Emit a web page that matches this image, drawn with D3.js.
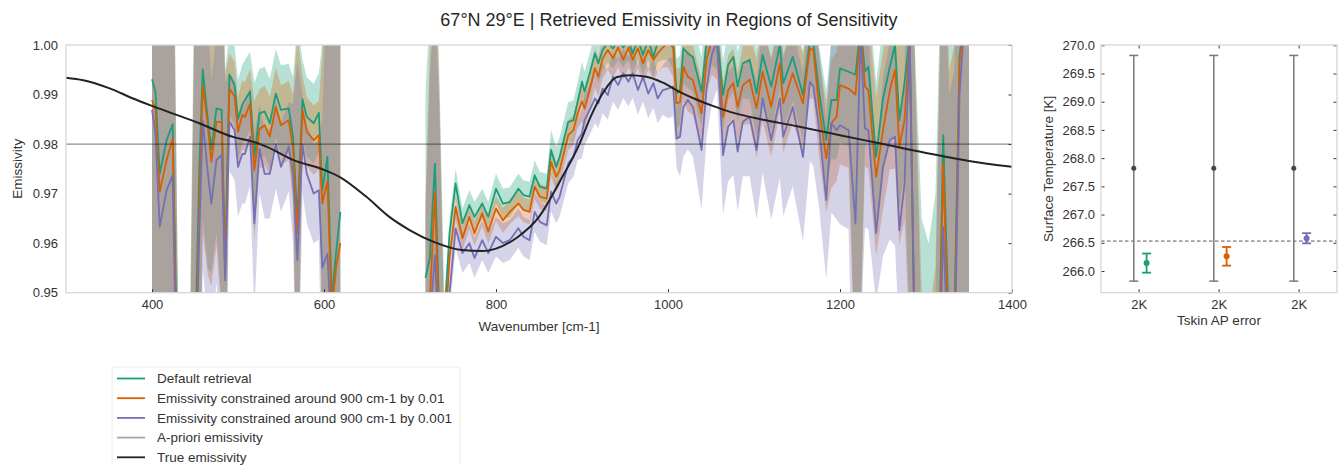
<!DOCTYPE html>
<html>
<head>
<meta charset="utf-8">
<script src="https://cdn.jsdelivr.net/npm/d3@7"></script>
<style>
    body { margin: 0; background: #fff; }
    svg { font-family: "Liberation Sans", Arial, sans-serif; }
</style>
</head>
<body>
<svg id="chart" width="1338" height="465"></svg>
<script>
// ---- emissivity panel data (null = no retrieval between the two windows) ----
const wavenumbers = [
    400, 404, 409, 417, 424, 431, 437, 443, 449, 455,
    459, 465, 469, 475, 481, 485, 490, 496, 500, 505,
    508, 514, 519, 525, 531, 537, 544, 550, 559, 564,
    569, 575, 580, 588, 594, 598, 604, 609, 614, 619,
    670,
    718, 723, 729, 734, 740, 746, 753, 761, 769, 775,
    784, 791, 800, 808, 816, 826, 832, 839, 845, 851,
    859, 864, 870, 874, 884, 890, 895, 900, 903, 909,
    915, 919, 924, 930, 936, 942, 948, 954, 959, 965,
    971, 977, 983, 988, 994, 1000, 1006, 1010, 1014, 1018,
    1023, 1029, 1039, 1045, 1051, 1057, 1064, 1070, 1076, 1081,
    1087, 1095, 1103, 1110, 1120, 1130, 1134, 1145, 1157, 1165,
    1169, 1176, 1184, 1190, 1196, 1200, 1210, 1218, 1224, 1229,
    1233, 1242, 1250, 1258, 1264, 1269, 1275, 1281, 1287, 1295,
    1303, 1311, 1316, 1320, 1327, 1333, 1339, 1344, 1350
];

const defaultRetrieval = [
    .9931, .9906, .9740, .9808, .9840, .9200, .9000, .9100, .9300, .9750,
    .9951, .9848, .9790, .9872, .9869, .9550, .9940, .9919, .9850, .9880,
    .9889, .9906, .9774, .9862, .9866, .9842, .9902, .9869, .9872, .9815,
    .9646, .9890, .9855, .9842, .9863, .9707, .9774, .9490, .9579, .9663,
    null,
    .9530, .9570, .9760, .9450, .9450, .9620, .9720, .9640, .9677, .9653,
    .9680, .9653, .9710, .9680, .9683, .9710, .9697, .9694, .9737, .9714,
    .9710, .9788, .9754, .9774, .9845, .9848, .9886, .9926, .9906, .9943,
    .9983, .9963, .9990, 1.0005, .9993, 1.0010, .9995, 1.0010, .9983, 1.0010,
    .9980, 1.0010, .9976, 1.0005, 1.0010, 1.0020, 1.0010, .9902, .9909, .9993,
    .9983, .9976, .9906, 1.0010, 1.0030, 1.0020, .9899, .9960, .9976, .9916,
    .9963, .9970, .9902, .9980, .9916, 1.0000, .9923, .9976, .9899, 1.0010,
    1.0005, .9902, .9808, .9889, .9889, .9953, .9946, .9940, 1.0040, .9946,
    .9956, .9774, .9892, .9956, 1.0000, .9848, .9923, 1.0020, .9400, .9250,
    .9200, .9300, .9450, .9818, .9400, .9450, .9976, 1.0050, 1.0100
];

const constrained01 = [
    .9889, .9869, .9704, .9768, .9811, .9150, .8950, .9050, .9250, .9680,
    .9919, .9835, .9764, .9845, .9845, .9540, .9912, .9896, .9825, .9859,
    .9855, .9881, .9747, .9830, .9838, .9815, .9875, .9838, .9848, .9790,
    .9620, .9868, .9825, .9808, .9818, .9680, .9725, .9460, .9550, .9600,
    null,
    .9490, .9480, .9704, .9420, .9400, .9570, .9673, .9610, .9653, .9620,
    .9660, .9623, .9670, .9646, .9663, .9680, .9667, .9663, .9714, .9694,
    .9690, .9764, .9734, .9747, .9818, .9828, .9862, .9886, .9872, .9909,
    .9953, .9936, .9973, .9990, .9973, .9995, .9970, .9995, .9970, .9993,
    .9963, .9990, .9970, .9983, .9995, 1.0005, .9995, .9882, .9885, .9956,
    .9936, .9929, .9862, .9973, 1.0010, 1.0000, .9855, .9909, .9923, .9875,
    .9919, .9930, .9872, .9946, .9875, .9963, .9882, .9943, .9882, .9993,
    .9990, .9869, .9771, .9842, .9855, .9919, .9912, .9900, 1.0030, .9916,
    .9909, .9734, .9828, .9909, .9950, .9795, .9848, 1.0010, .9380, .9200,
    .9150, .9250, .9400, .9761, .9350, .9400, .9963, 1.0040, 1.0080
];

const constrained001 = [
    .9869, .9822, .9633, .9707, .9737, .9100, .8900, .9000, .9200, .9620,
    .9848, .9740, .9680, .9768, .9778, .9525, .9845, .9828, .9754, .9780,
    .9780, .9815, .9640, .9790, .9740, .9740, .9800, .9754, .9795, .9740,
    .9566, .9800, .9740, .9700, .9707, .9550, .9579, .9400, .9450, .9500,
    null,
    .9460, .9440, .9576, .9380, .9350, .9500, .9630, .9580, .9600, .9570,
    .9606, .9580, .9613, .9600, .9606, .9630, .9613, .9606, .9663, .9643,
    .9636, .9704, .9680, .9694, .9761, .9774, .9808, .9822, .9848, .9869,
    .9892, .9882, .9912, .9899, .9936, .9919, .9943, .9926, .9943, .9909,
    .9936, .9902, .9923, .9892, .9909, .9912, .9916, .9811, .9815, .9875,
    .9889, .9875, .9788, .9916, .9980, 1.0010, .9778, .9835, .9848, .9785,
    .9845, .9855, .9788, .9892, .9808, .9892, .9815, .9875, .9774, .9926,
    .9916, .9828, .9687, .9842, .9828, .9838, .9828, .9640, 1.0020, .9832,
    .9828, .9620, .9754, .9808, .9815, .9626, .9720, 1.0010, .9350, .9100,
    .9050, .9200, .9350, .9633, .9300, .9350, .9900, 1.0030, 1.0060
];

// 1-sigma retrieval errors
const defaultSigma = [
    .06, .06, .06, .06, .06, .02, .02, .02, .08, .05,
    .03, .03, .025, .025, .04, .04, .008, .008, .008, .008,
    .008, .008, .015, .009, .009, .009, .009, .009, .009, .012,
    .04, .008, .008, .008, .008, .03, .06, .06, .06, .06,
    null,
    .037, .05, .05, .05, .004, .003, .003, .003, .003, .003,
    .003, .003, .003, .003, .003, .003, .003, .003, .003, .003,
    .003, .004, .004, .004, .004, .004, .004, .004, .004, .004,
    .004, .004, .004, .004, .004, .004, .004, .004, .004, .004,
    .004, .004, .004, .004, .004, .005, .006, .007, .007, .007,
    .007, .007, .007, .007, .007, .007, .007, .007, .007, .007,
    .007, .008, .009, .009, .009, .009, .009, .009, .009, .009,
    .009, .009, .010, .012, .012, .015, .015, .06, .06, .015,
    .015, .015, .015, .015, .018, .018, .018, .06, .06, .04,
    .04, .04, .06, .06, .06, .06, .06, .06, .06
];

const constrained01Sigma = [
    .06, .06, .06, .06, .06, .02, .02, .02, .08, .05,
    .03, .03, .025, .025, .04, .04, .007, .007, .007, .007,
    .007, .007, .014, .008, .008, .008, .008, .008, .008, .011,
    .04, .007, .007, .007, .007, .03, .06, .06, .06, .06,
    null,
    .02, .05, .05, .05, .003, .0025, .0025, .0025, .0025, .0025,
    .0025, .0025, .0025, .0025, .0025, .0025, .0025, .0025, .0025, .0025,
    .0025, .003, .003, .003, .003, .003, .003, .004, .004, .004,
    .004, .004, .004, .004, .004, .004, .004, .004, .004, .004,
    .004, .004, .004, .004, .004, .005, .006, .007, .007, .007,
    .007, .007, .007, .007, .007, .007, .007, .007, .007, .007,
    .008, .009, .010, .010, .010, .010, .010, .010, .010, .010,
    .010, .010, .011, .013, .013, .016, .016, .06, .06, .016,
    .016, .016, .016, .016, .02, .02, .02, .06, .06, .03,
    .03, .03, .06, .06, .06, .06, .06, .06, .06
];

const constrained001Sigma = [
    .06, .06, .06, .06, .06, .02, .02, .02, .08, .05,
    .03, .03, .025, .025, .04, .04, .010, .010, .010, .010,
    .010, .010, .018, .009, .009, .009, .009, .009, .009, .014,
    .04, .010, .010, .010, .010, .03, .06, .06, .06, .06,
    null,
    .02, .05, .05, .05, .004, .004, .004, .004, .004, .004,
    .004, .004, .004, .004, .004, .004, .004, .004, .004, .004,
    .004, .004, .004, .004, .004, .004, .004, .005, .005, .005,
    .005, .005, .005, .005, .005, .005, .005, .005, .005, .005,
    .005, .005, .005, .005, .005, .006, .006, .006, .008, .010,
    .010, .010, .012, .010, .010, .010, .012, .011, .011, .012,
    .011, .012, .014, .015, .016, .016, .016, .016, .017, .016,
    .016, .016, .016, .018, .018, .02, .02, .06, .06, .02,
    .02, .014, .018, .02, .022, .022, .022, .06, .06, .03,
    .03, .03, .06, .06, .06, .06, .06, .06, .06
];

const trueWavenumbers = [
    300, 320, 350, 378, 400, 455, 495, 517, 533, 564,
    600, 618, 649, 676, 700, 727, 760, 785, 800, 825,
    850, 875, 897, 910, 925, 940, 955, 975, 994, 1014,
    1033, 1052, 1072, 1100, 1150, 1200, 1250, 1300, 1350, 1400
];
const trueEmissivity = [
    .9934, .9929, .9913, .9892, .9877, .9842, .9814, .9805, .9795, .9768,
    .9748, .9734, .9694, .9653, .9626, .9603, .9586, .9584, .9589, .9612,
    .9653, .9727, .9800, .9855, .9905, .9935, .9939, .9936, .9924, .9905,
    .9890, .9877, .9865, .9853, .9836, .9818, .9800, .9782, .9766, .9754
];
const aprioriEmissivity = 0.98;

const xTicks = [400, 600, 800, 1000, 1200, 1400];
const yTicks = [0.95, 0.96, 0.97, 0.98, 0.99, 1.00];

// ---- surface temperature panel data ----
const apErrorLabels = ['2K', '2K', '2K'];
const aprioriTemp = [267.82, 267.82, 267.82];
const aprioriTempErr = [2.0, 2.0, 2.0];
const retrievedTemp = [266.14, 266.26, 266.58];
const retrievedTempErr = [0.17, 0.165, 0.09];
const trueTemp = 266.53;
const tempTicks = [266.0, 266.5, 267.0, 267.5, 268.0, 268.5, 269.0, 269.5, 270.0];

const seriesNames = [
    'Default retrieval',
    'Emissivity constrained around 900 cm-1 by 0.01',
    'Emissivity constrained around 900 cm-1 by 0.001'
];
const seriesColors = ['#1b9e77', '#d95f02', '#7570b3'];

const series = [
    { name: seriesNames[0], color: seriesColors[0], values: defaultRetrieval, sigma: defaultSigma },
    { name: seriesNames[1], color: seriesColors[1], values: constrained01, sigma: constrained01Sigma },
    { name: seriesNames[2], color: seriesColors[2], values: constrained001, sigma: constrained001Sigma }
];

const textColor = '#333';
const frameColor = '#d6d6d6';

const svg = d3.select('#chart');

// Title
svg.append('text')
    .attr('x', 669)
    .attr('y', 26)
    .attr('text-anchor', 'middle')
    .attr('font-size', '18px')
    .attr('fill', '#262626')
    .text('67°N 29°E | Retrieved Emissivity in Regions of Sensitivity');

// ================= Emissivity panel =================
const left = { x0: 66, x1: 1012, y0: 45, y1: 292.7 };

const x = d3.scaleLinear().domain([300, 1400]).range([left.x0, left.x1]);
const y = d3.scaleLinear().domain([0.95, 1.0]).range([left.y1, left.y0]);

svg.append('clipPath')
    .attr('id', 'clip-left')
    .append('rect')
    .attr('x', left.x0)
    .attr('y', left.y0)
    .attr('width', left.x1 - left.x0)
    .attr('height', left.y1 - left.y0);

const plot = svg.append('g').attr('clip-path', 'url(#clip-left)');

// Uncertainty bands
series.forEach((s) => {
    const rows = wavenumbers.map((w, i) => ({ w: w, v: s.values[i], s: s.sigma[i] }));
    const area = d3.area()
        .defined((d) => d.v != null)
        .x((d) => x(d.w))
        .y0((d) => y(d.v - d.s))
        .y1((d) => y(d.v + d.s));
    plot.append('path')
        .datum(rows)
        .attr('d', area)
        .attr('fill', s.color)
        .attr('fill-opacity', 0.31);
});

// Retrieved lines
series.forEach((s) => {
    const rows = wavenumbers.map((w, i) => ({ w: w, v: s.values[i] }));
    const line = d3.line()
        .defined((d) => d.v != null)
        .x((d) => x(d.w))
        .y((d) => y(d.v));
    plot.append('path')
        .datum(rows)
        .attr('d', line)
        .attr('fill', 'none')
        .attr('stroke', s.color)
        .attr('stroke-width', 1.8)
        .attr('stroke-linejoin', 'round');
});

// A-priori emissivity
plot.append('line')
    .attr('x1', x(300))
    .attr('x2', x(1400))
    .attr('y1', y(aprioriEmissivity))
    .attr('y2', y(aprioriEmissivity))
    .attr('stroke', '#000')
    .attr('stroke-opacity', 0.45)
    .attr('stroke-width', 1.4);

// True emissivity
const trueRows = trueWavenumbers.map((w, i) => ({ w: w, v: trueEmissivity[i] }));
plot.append('path')
    .datum(trueRows)
    .attr('d', d3.line().curve(d3.curveMonotoneX).x((d) => x(d.w)).y((d) => y(d.v)))
    .attr('fill', 'none')
    .attr('stroke', '#222')
    .attr('stroke-width', 2);

// Axes
const styleAxis = (g) => {
    g.select('.domain').remove();
    g.selectAll('.tick line').attr('stroke', '#333');
    g.selectAll('.tick text').attr('fill', textColor).attr('font-size', '13px');
};

svg.append('g')
    .attr('transform', `translate(0, ${left.y1})`)
    .call(d3.axisBottom(x).tickValues(xTicks).tickSizeInner(-3.5).tickSizeOuter(0).tickPadding(7).tickFormat(d3.format('d')))
    .call(styleAxis);

svg.append('g')
    .attr('transform', `translate(${left.x0}, 0)`)
    .call(d3.axisLeft(y).tickValues(yTicks).tickSize(0).tickPadding(8).tickFormat(d3.format('.2f')))
    .call(styleAxis);

svg.append('g')
    .attr('transform', `translate(${left.x1}, 0)`)
    .call(d3.axisRight(y).tickValues(yTicks).tickSizeInner(-3.5).tickSizeOuter(0).tickFormat(''))
    .call(styleAxis);

svg.append('rect')
    .attr('x', left.x0)
    .attr('y', left.y0)
    .attr('width', left.x1 - left.x0)
    .attr('height', left.y1 - left.y0)
    .attr('fill', 'none')
    .attr('stroke', frameColor)
    .attr('stroke-width', 1.3);

svg.append('text')
    .attr('x', (left.x0 + left.x1) / 2)
    .attr('y', 331)
    .attr('text-anchor', 'middle')
    .attr('font-size', '13.5px')
    .attr('fill', textColor)
    .text('Wavenumber [cm-1]');

svg.append('text')
    .attr('transform', `translate(21.5, ${(left.y0 + left.y1) / 2}) rotate(-90)`)
    .attr('text-anchor', 'middle')
    .attr('font-size', '13.5px')
    .attr('fill', textColor)
    .text('Emissivity');

// ================= Surface temperature panel =================
const right = { x0: 1101, x1: 1337, y0: 45, y1: 292.7 };

const x2 = d3.scaleLinear().domain([-0.47, 2.48]).range([right.x0, right.x1]);
const y2 = d3.scaleLinear().domain([265.615, 270.005]).range([right.y1, right.y0]);
const cats = d3.range(apErrorLabels.length);

// True skin temperature
svg.append('line')
    .attr('x1', right.x0)
    .attr('x2', right.x1)
    .attr('y1', y2(trueTemp))
    .attr('y2', y2(trueTemp))
    .attr('stroke', '#555')
    .attr('stroke-width', 1)
    .attr('stroke-dasharray', '3.5,2.5');

const drawErrorbar = (g, cx, value, err, color, markerColor, width, radius) => {
    g.append('line')
        .attr('x1', cx).attr('x2', cx)
        .attr('y1', y2(value - err)).attr('y2', y2(value + err))
        .attr('stroke', color).attr('stroke-width', width);
    [value - err, value + err].forEach((v) => {
        g.append('line')
            .attr('x1', cx - 4.5).attr('x2', cx + 4.5)
            .attr('y1', y2(v)).attr('y2', y2(v))
            .attr('stroke', color).attr('stroke-width', width);
    });
    g.append('circle')
        .attr('cx', cx)
        .attr('cy', y2(value))
        .attr('r', radius)
        .attr('fill', markerColor);
};

const bars = svg.append('g');
cats.forEach((i) => {
    drawErrorbar(bars, x2(i - 0.06), aprioriTemp[i], aprioriTempErr[i], '#7a7a7a', '#444', 1.5, 2.5);
    drawErrorbar(bars, x2(i + 0.1), retrievedTemp[i], retrievedTempErr[i], seriesColors[i], seriesColors[i], 1.8, 3);
});

svg.append('g')
    .attr('transform', `translate(0, ${right.y1})`)
    .call(d3.axisBottom(x2).tickValues(cats).tickSizeInner(-3.5).tickSizeOuter(0).tickPadding(7).tickFormat((d) => apErrorLabels[d]))
    .call(styleAxis);

svg.append('g')
    .attr('transform', `translate(0, ${right.y0})`)
    .call(d3.axisTop(x2).tickValues(cats).tickSizeInner(-3.5).tickSizeOuter(0).tickFormat(''))
    .call(styleAxis);

svg.append('g')
    .attr('transform', `translate(${right.x0}, 0)`)
    .call(d3.axisLeft(y2).tickValues(tempTicks).tickSizeInner(-3.5).tickSizeOuter(0).tickPadding(6).tickFormat(d3.format('.1f')))
    .call(styleAxis);

svg.append('g')
    .attr('transform', `translate(${right.x1}, 0)`)
    .call(d3.axisRight(y2).tickValues(tempTicks).tickSizeInner(-3.5).tickSizeOuter(0).tickFormat(''))
    .call(styleAxis);

svg.append('rect')
    .attr('x', right.x0)
    .attr('y', right.y0)
    .attr('width', right.x1 - right.x0)
    .attr('height', right.y1 - right.y0)
    .attr('fill', 'none')
    .attr('stroke', frameColor)
    .attr('stroke-width', 1.3);

svg.append('text')
    .attr('x', (right.x0 + right.x1) / 2)
    .attr('y', 325)
    .attr('text-anchor', 'middle')
    .attr('font-size', '13.5px')
    .attr('fill', textColor)
    .text('Tskin AP error');

svg.append('text')
    .attr('transform', `translate(1053, ${(right.y0 + right.y1) / 2}) rotate(-90)`)
    .attr('text-anchor', 'middle')
    .attr('font-size', '13.5px')
    .attr('fill', textColor)
    .text('Surface Temperature [K]');

// ================= Legend =================
const legendItems = [
    { name: seriesNames[0], color: seriesColors[0], opacity: 1 },
    { name: seriesNames[1], color: seriesColors[1], opacity: 1 },
    { name: seriesNames[2], color: seriesColors[2], opacity: 1 },
    { name: 'A-priori emissivity', color: '#000', opacity: 0.35 },
    { name: 'True emissivity', color: '#222', opacity: 1 }
];

const legend = svg.append('g').attr('transform', 'translate(112, 367)');

legend.append('rect')
    .attr('x', 0)
    .attr('y', 0)
    .attr('width', 348)
    .attr('height', 110)
    .attr('rx', 3)
    .attr('fill', '#fff')
    .attr('stroke', '#ececec');

const rows = legend.selectAll('.item')
    .data(legendItems)
    .enter()
    .append('g')
    .attr('class', 'item')
    .attr('transform', (d, i) => `translate(0, ${11.5 + i * 19.7})`);

rows.append('line')
    .attr('x1', 5)
    .attr('x2', 33)
    .attr('stroke', (d) => d.color)
    .attr('stroke-opacity', (d) => d.opacity)
    .attr('stroke-width', 1.8);

rows.append('text')
    .attr('x', 45)
    .attr('dy', '0.35em')
    .attr('font-size', '13.5px')
    .attr('fill', textColor)
    .text((d) => d.name);
</script>
</body>
</html>
